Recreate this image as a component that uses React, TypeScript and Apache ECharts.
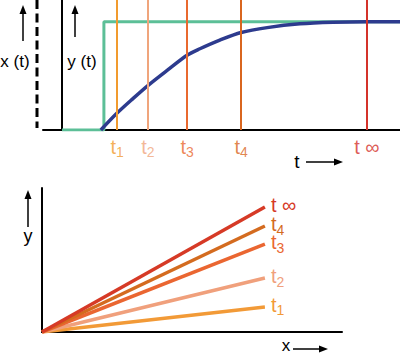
import React, { useEffect, useRef } from "react";
import * as echarts from "echarts";

const FONT = '"Liberation Sans", Arial, Helvetica, sans-serif';

// Top panel: time instants and their colours
const markNames = ["1", "2", "3", "4", "∞"];
const markTimes = [1.63, 2.54, 3.7, 5.3, 9.02];
const markColors = ["#f29b2e", "#f0a57c", "#e9692f", "#d9661f", "#d4322a"];

// Step input x(t)
const stepTime = 1.24;
const stepLevels = [0, 1];
const timeEnd = 10;

// Response y(t)
const responseT = [1.15, 1.63, 2.1, 2.54, 3.11, 3.7, 4.08, 4.67, 5.3, 6.07, 7.04, 8.02, 9.02, 10];
const responseY = [0, 0.156, 0.29, 0.41, 0.55, 0.69, 0.75, 0.83, 0.9, 0.945, 0.98, 0.995, 1.0, 1.0];

// Bottom panel: profiles y(x) at each instant (straight lines from origin)
const profileXEnd = 7.43;
const profileYEnd = [1.74, 3.75, 6.11, 7.36, 8.68];
const profileColors = ["#f29a37", "#f0a07c", "#ea6631", "#d46b1f", "#d63a26"];

const richSub = {
  s: { fontSize: 14, fontFamily: FONT, lineHeight: 10, verticalAlign: "top", padding: [7, 0, 0, 0] },
};
const labelText = (n: string) => (n === "∞" ? "t ∞" : `t{s|${n}}`);
const labelBase = { fontSize: 20, fontFamily: FONT, lineHeight: 17 };

function upArrow(x: number, y1: number, y2: number) {
  return [
    { type: "line", shape: { x1: x, y1: y1 + 6, x2: x, y2 }, style: { stroke: "#000", lineWidth: 1.5 } },
    { type: "polygon", shape: { points: [[x, y1], [x - 3.5, y1 + 9], [x + 3.5, y1 + 9]] }, style: { fill: "#000" } },
  ];
}
function rightArrow(x1: number, x2: number, y: number) {
  return [
    { type: "line", shape: { x1, y1: y, x2: x2 - 6, y2: y }, style: { stroke: "#000", lineWidth: 1.5 } },
    { type: "polygon", shape: { points: [[x2, y], [x2 - 9, y - 3.5], [x2 - 9, y + 3.5]] }, style: { fill: "#000" } },
  ];
}
const txt = (text: string, x: number, y: number, size: number) => ({
  type: "text", x, y,
  style: { text, font: `${size}px ${FONT}`, fill: "#000", textAlign: "center", textVerticalAlign: "middle" },
});

export default function App() {
  const ref = useRef<HTMLDivElement>(null);
  useEffect(() => {
    const chart = echarts.init(ref.current!, null, { renderer: "svg" });
    const option: any = {
      animation: false,
      backgroundColor: "#fff",
      grid: [
        { left: 43, right: 0, top: 0, height: 130 },
        { left: 42, top: 188, width: 300, height: 144 },
      ],
      xAxis: [
        {
          gridIndex: 0, type: "value", min: -0.562, max: timeEnd,
          axisLine: { lineStyle: { color: "#000", width: 2 } },
          axisTick: { show: false }, axisLabel: { show: false }, splitLine: { show: false },
        },
        {
          gridIndex: 1, type: "value", min: 0, max: 10,
          axisLine: { lineStyle: { color: "#000", width: 2 } },
          axisTick: { show: false }, axisLabel: { show: false }, splitLine: { show: false },
        },
      ],
      yAxis: [
        {
          gridIndex: 0, type: "value", min: 0, max: 1.2,
          axisLine: { show: true, onZero: true, lineStyle: { color: "#000", width: 2 } },
          axisTick: { show: false }, axisLabel: { show: false }, splitLine: { show: false },
        },
        {
          gridIndex: 1, type: "value", min: 0, max: 10,
          axisLine: { show: true, lineStyle: { color: "#000", width: 2 } },
          axisTick: { show: false }, axisLabel: { show: false }, splitLine: { show: false },
        },
      ],
      series: [
        {
          type: "line", xAxisIndex: 0, yAxisIndex: 0, data: [], z: 1,
          markLine: {
            silent: true, symbol: "none", animation: false,
            label: { show: false },
            data: markTimes.map((t, i) => ({
              xAxis: t,
              lineStyle: { color: markColors[i], width: 2, type: "solid" },
            })),
          },
        },
        {
          type: "scatter", xAxisIndex: 0, yAxisIndex: 0, z: 5, symbolSize: 0, silent: true,
          data: markTimes.map((t, i) => ({ value: [t, 0], label: { color: markColors[i] } })),
          label: {
            show: true, position: "bottom", distance: 8, verticalAlign: "top", ...labelBase,
            formatter: (p: any) => labelText(markNames[p.dataIndex]), rich: richSub,
          },
        },
        {
          type: "line", xAxisIndex: 0, yAxisIndex: 0, z: 3, symbol: "none",
          lineStyle: { color: "#5cbf97", width: 3 },
          data: [[0, stepLevels[0]], [stepTime, stepLevels[0]], [stepTime, stepLevels[1]], [timeEnd, stepLevels[1]]],
        },
        {
          type: "line", xAxisIndex: 0, yAxisIndex: 0, z: 4, symbol: "none", smooth: 0.3,
          lineStyle: { color: "#2d3b8e", width: 3.5 },
          data: responseT.map((t, i) => [t, responseY[i]]),
        },
        ...profileYEnd.map((ye, i) => ({
          type: "line", xAxisIndex: 1, yAxisIndex: 1, z: 3 + i, symbol: "none",
          lineStyle: { color: profileColors[i], width: 3.5 },
          data: [[0, 0], [profileXEnd, ye]],
          endLabel: {
            show: true, distance: 6, color: profileColors[i], offset: [0, -2], verticalAlign: "middle", ...labelBase,
            formatter: () => labelText(markNames[i]), rich: richSub,
          },
        })),
      ],
      graphic: [
        {
          type: "line", shape: { x1: 37, y1: 0, x2: 37, y2: 128 },
          style: { stroke: "#000", lineWidth: 3, lineDash: [9, 4.5] },
        },
        ...upArrow(23, 5, 41),
        ...upArrow(75, 5, 37),
        txt("x (t)", 15, 61, 17),
        txt("y (t)", 82, 61, 17),
        txt("t", 297, 161, 19),
        ...rightArrow(306, 343, 162),
        ...upArrow(28, 190, 227),
        txt("y", 28, 236, 18),
        txt("x", 286, 345, 17),
        ...rightArrow(293, 328, 349),
      ],
    };
    chart.setOption(option);
    return () => chart.dispose();
  }, []);
  return <div ref={ref} style={{ width: 400, height: 354, position: "absolute", left: 0, top: 0 }} />;
}
